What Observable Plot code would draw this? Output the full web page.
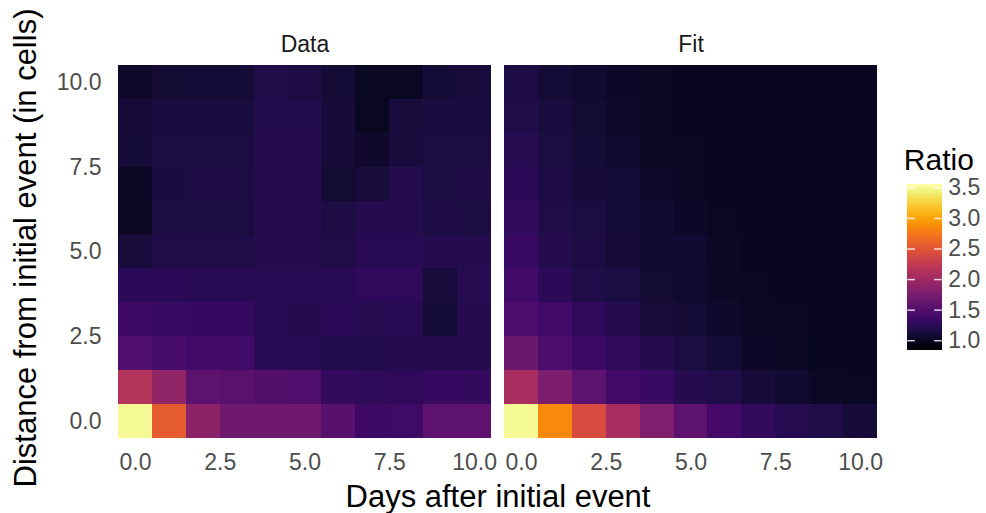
<!DOCTYPE html>
<html><head><meta charset="utf-8">
<script src="https://cdn.jsdelivr.net/npm/d3@7"></script>
<script src="https://cdn.jsdelivr.net/npm/@observablehq/plot@0.6"></script>
<style>
body{margin:0;background:#fff;}
#wrap{position:relative;width:986px;height:513px;font-family:"Liberation Sans",Arial,sans-serif;}
#legend{position:absolute;left:895px;top:140px;}
</style></head><body><div id="wrap"></div><div id="legend"></div>
<script>
const days = [0, 1, 2, 3, 4, 5, 6, 7, 8, 9, 10];
const distances = [0, 1, 2, 3, 4, 5, 6, 7, 8, 9, 10];
const panels = ["Data", "Fit"];
// rows: distance 0..10, columns: day 0..10
const dataRatio = [
  [3.50, 2.55, 1.87, 1.68, 1.68, 1.68, 1.52, 1.35, 1.37, 1.55, 1.55],
  [2.15, 1.90, 1.57, 1.53, 1.50, 1.47, 1.30, 1.26, 1.27, 1.31, 1.30],
  [1.47, 1.42, 1.38, 1.38, 1.24, 1.23, 1.19, 1.19, 1.20, 1.20, 1.21],
  [1.35, 1.32, 1.31, 1.31, 1.24, 1.21, 1.25, 1.22, 1.23, 1.10, 1.20],
  [1.25, 1.25, 1.24, 1.24, 1.23, 1.23, 1.24, 1.27, 1.27, 1.12, 1.22],
  [1.12, 1.18, 1.18, 1.18, 1.20, 1.20, 1.18, 1.23, 1.23, 1.20, 1.20],
  [1.03, 1.14, 1.14, 1.14, 1.20, 1.20, 1.16, 1.21, 1.21, 1.16, 1.14],
  [1.03, 1.13, 1.16, 1.16, 1.20, 1.20, 1.09, 1.12, 1.20, 1.14, 1.16],
  [1.10, 1.14, 1.14, 1.14, 1.20, 1.20, 1.11, 1.06, 1.12, 1.14, 1.14],
  [1.11, 1.13, 1.13, 1.13, 1.19, 1.19, 1.11, 1.00, 1.12, 1.13, 1.13],
  [1.05, 1.09, 1.10, 1.10, 1.18, 1.15, 1.10, 1.00, 1.00, 1.10, 1.12]
];
const fitRatio = [
  [3.50, 2.85, 2.41, 2.06, 1.79, 1.57, 1.41, 1.30, 1.22, 1.17, 1.11],
  [2.06, 1.77, 1.55, 1.38, 1.33, 1.20, 1.17, 1.11, 1.08, 1.01, 1.00],
  [1.65, 1.46, 1.35, 1.27, 1.20, 1.14, 1.10, 1.04, 1.02, 0.99, 0.99],
  [1.46, 1.38, 1.27, 1.20, 1.12, 1.10, 1.06, 1.01, 1.00, 0.99, 0.99],
  [1.38, 1.25, 1.18, 1.14, 1.09, 1.07, 1.02, 1.00, 0.99, 0.99, 0.99],
  [1.33, 1.20, 1.15, 1.11, 1.08, 1.08, 1.01, 0.99, 0.99, 0.99, 0.99],
  [1.29, 1.17, 1.14, 1.10, 1.07, 1.04, 1.00, 0.99, 0.99, 0.99, 0.99],
  [1.25, 1.15, 1.11, 1.10, 1.05, 1.01, 0.99, 0.99, 0.99, 0.99, 0.99],
  [1.22, 1.14, 1.10, 1.07, 1.02, 1.00, 0.99, 0.99, 0.99, 0.99, 0.99],
  [1.18, 1.13, 1.09, 1.05, 1.01, 0.99, 0.99, 0.99, 0.99, 0.99, 0.99],
  [1.15, 1.10, 1.07, 1.04, 1.01, 0.99, 0.99, 0.99, 0.99, 0.99, 0.99]
];
const xTicks = [0, 2.5, 5, 7.5, 10];
const yTicks = [0, 2.5, 5, 7.5, 10];
const legendTicks = [1, 1.5, 2, 2.5, 3, 3.5];
const colorDomain = [0.84, 3.55];
const xTitle = "Days after initial event";
const yTitle = "Distance from initial event (in cells)";
const legendTitle = "Ratio";

const cells = [];
panels.forEach((p, k) => {
  const m = k ? fitRatio : dataRatio;
  distances.forEach((dist, i) => days.forEach((day, j) => cells.push({panel: p, day, dist, ratio: m[i][j]})));
});

const fmt = d3.format(".1f");
const font = '"Liberation Sans", Arial, sans-serif';

const chart = Plot.plot({
  width: 986, height: 513,
  marginLeft: 117, marginRight: 108, marginTop: 65, marginBottom: 75,
  style: {fontFamily: font, fontSize: "23px", color: "#4d4d4d", background: "white"},
  fx: {domain: panels, padding: 0.0335, label: null},
  x: {domain: [-0.5, 10.5], label: null},
  y: {domain: [-0.5, 10.5], label: null},
  color: {type: "linear", scheme: "inferno", domain: colorDomain},
  marks: [
    Plot.rect(cells, {fx: "panel", x1: d => d.day - 0.5, x2: d => d.day + 0.5, y1: d => d.dist - 0.5, y2: d => d.dist + 0.5, fill: "ratio", shapeRendering: "crispEdges"}),
    Plot.axisX({ticks: xTicks, tickFormat: fmt, tickSize: 0, tickPadding: 15, label: null, fill: "#4d4d4d"}),
    Plot.axisY({ticks: yTicks, tickFormat: fmt, tickSize: 0, tickPadding: 17, label: null, fill: "#4d4d4d"}),
    Plot.axisFx({anchor: "top", tickSize: 0, tickPadding: 14, label: null, fill: "#1a1a1a"})
  ]
});

const svg = d3.select(chart);
svg.append("text").attr("x", 498).attr("y", 507).attr("text-anchor", "middle")
  .attr("font-size", 31).attr("fill", "black").attr("font-family", font).text(xTitle);
svg.append("text").attr("transform", "translate(35.5,248) rotate(-90)").attr("text-anchor", "middle")
  .attr("font-size", 31).attr("fill", "black").attr("font-family", font).text(yTitle);
document.getElementById("wrap").appendChild(chart);

const nSteps = 200;
const ramp = d3.range(nSteps).map(i => {
  const lo = colorDomain[0] + (colorDomain[1] - colorDomain[0]) * i / nSteps;
  const hi = colorDomain[0] + (colorDomain[1] - colorDomain[0]) * (i + 1) / nSteps;
  return {lo, hi, mid: (lo + hi) / 2};
});

const legend = Plot.plot({
  width: 91, height: 220,
  marginLeft: 12.3, marginRight: 44.3, marginTop: 44.3, marginBottom: 10,
  style: {fontFamily: font, fontSize: "23px", color: "#4d4d4d", background: "transparent", overflow: "visible"},
  x: {domain: [0, 1], axis: null},
  y: {domain: colorDomain, axis: null},
  color: {type: "linear", scheme: "inferno", domain: colorDomain},
  marks: [
    Plot.rect(ramp, {x1: 0, x2: 1, y1: "lo", y2: "hi", fill: "mid", shapeRendering: "crispEdges"}),
    Plot.ruleY(legendTicks, {x1: 0, x2: 0.22, stroke: "white", strokeOpacity: 0.8, strokeWidth: 1.5}),
    Plot.ruleY(legendTicks, {x1: 0.78, x2: 1, stroke: "white", strokeOpacity: 0.8, strokeWidth: 1.5}),
    Plot.axisY({anchor: "right", ticks: legendTicks, tickFormat: fmt, tickSize: 0, tickPadding: 6, label: null, fill: "#4d4d4d"}),
    Plot.text([legendTitle], {frameAnchor: "top-left", textAnchor: "start", lineAnchor: "bottom", dx: -4, dy: -15, fontSize: 30, fill: "black"})
  ]
});
document.getElementById("legend").appendChild(legend);
</script></body></html>
